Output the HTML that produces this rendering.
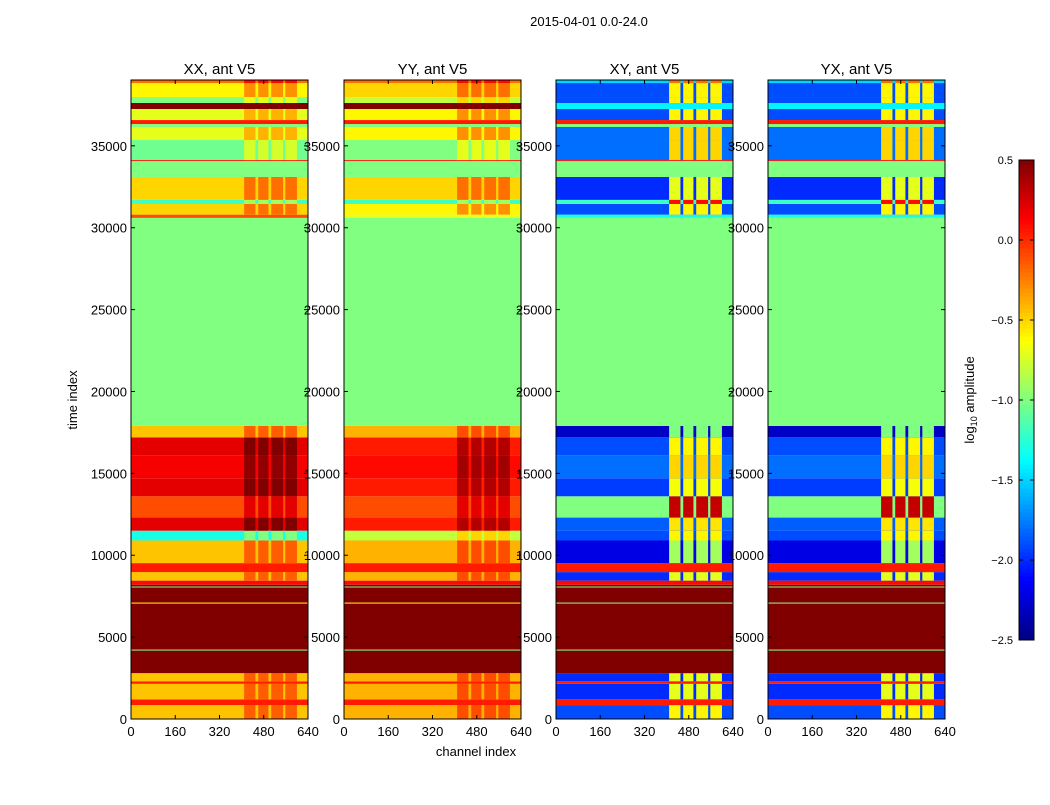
<!DOCTYPE html>
<html><head><meta charset="utf-8"><style>
body{margin:0;background:#fff;}
svg text{font-family:"Liberation Sans",sans-serif;fill:#000;}
</style></head><body>
<svg id="fig" width="1050" height="800" xmlns="http://www.w3.org/2000/svg">
<rect width="1050" height="800" fill="#fff"/>
<text x="589" y="26" font-size="13" text-anchor="middle">2015-04-01 0.0-24.0</text>
<text x="476" y="756" font-size="13" text-anchor="middle">channel index</text>
<text x="0" y="0" font-size="13" text-anchor="middle" transform="translate(77,400) rotate(-90)">time index</text>
<text x="0" y="0" font-size="13" text-anchor="middle" transform="translate(974,400) rotate(-90)">log<tspan font-size="9" dy="3">10</tspan><tspan dy="-3"> amplitude</tspan></text>
</svg>
<script>
const panelTitles=["XX, ant V5","YY, ant V5","XY, ant V5","YX, ant V5"];
const xTicks=[0,160,320,480,640];
const yTicks=[0,5000,10000,15000,20000,25000,30000,35000];
const cbTicks=[0.5,0.0,-0.5,-1.0,-1.5,-2.0,-2.5];
const cbLabels=["0.5","0.0","\u22120.5","\u22121.0","\u22121.5","\u22122.0","\u22122.5"];
const bandStart=[0,850,1200,2150,2300,2800,4180,4240,7050,7110,8030,8090,8200,8450,8970,9520,10900,11500,12300,13600,14700,16100,17200,17900,30600,30800,31450,31700,33100,34070,34130,35355,36150,36330,36575,37250,37615,37980,38835];
const bandEnd  =[850,1200,2150,2300,2800,4180,4240,7050,7110,8030,8090,8200,8450,8970,9520,10900,11500,12300,13600,14700,16100,17200,17900,30600,30800,31450,31700,33100,34070,34130,35355,36150,36330,36575,37250,37615,37980,38835,39020];
const xxVals=[-0.45,0.05,-0.45,0.05,-0.45,0.5,-1.0,0.5,-0.6,0.5,-1.0,0.5,0.1,-0.45,0.05,-0.45,-1.3,0.2,-0.1,0.2,0.15,0.2,-0.45,-1.0,-0.1,-0.5,-1.2,-0.5,-1.0,0.1,-1.05,-0.7,-1.0,0.05,-0.7,0.5,-1.0,-0.6,-0.2];
const yyVals=[-0.4,0.05,-0.4,0.05,-0.4,0.5,-1.0,0.5,-0.6,0.5,-1.0,0.5,0.1,-0.4,0.05,-0.4,-0.8,0.05,-0.1,0.05,0.1,0.05,-0.4,-1.0,-0.7,-0.6,-1.2,-0.5,-1.0,0.1,-1.0,-0.6,-1.0,0.05,-0.6,0.5,-0.8,-0.5,-0.2];
const xyVals=[-1.9,0.05,-2.0,0.05,-2.0,0.5,-1.0,0.5,-1.0,0.5,-1.0,0.5,0.1,-2.0,0.05,-2.2,-1.9,-1.85,-1.0,-1.95,-1.8,-1.9,-2.3,-1.0,-1.3,-1.9,-1.2,-2.0,-1.0,0.1,-1.8,-1.8,-1.0,0.05,-1.9,-1.4,-1.9,-1.9,-1.5];
const yxVals=xyVals;
const striped=[1,0,1,0,1,0,0,0,0,0,0,0,0,1,0,1,1,1,1,1,1,1,1,0,0,1,1,1,0,0,1,1,0,0,1,0,1,1,1];
const stripeChans=[[409,450],[460,497],[507,550],[558,600]];
const stripeDelta=[0.3,0.3,1.3,1.3];
const panelLeft=[131,344,556,768];
const PW=177,PT=80,PB=719,TMAX=39020,CMAX=640,VMIN=-2.5,VMAX=0.5;
const NS="http://www.w3.org/2000/svg";
const svg=document.getElementById('fig');
function jet(v){let x=(v-VMIN)/(VMAX-VMIN);x=Math.max(0,Math.min(1,x));
 const c=t=>Math.round(255*Math.max(0,Math.min(1,t)));
 const r=c(Math.min(4*x-1.5,-4*x+4.5)),g=c(Math.min(4*x-0.5,-4*x+3.5)),b=c(Math.min(4*x+0.5,-4*x+2.5));
 return `rgb(${r},${g},${b})`;}
const yScale=t=>PB-(t/TMAX)*(PB-PT);
function mk(tag,attrs){const e=document.createElementNS(NS,tag);for(const k in attrs)e.setAttribute(k,attrs[k]);svg.appendChild(e);return e;}
const series=[xxVals,yyVals,xyVals,yxVals];
for(let p=0;p<4;p++){
 const L=panelLeft[p];const xScale=c=>L+c/CMAX*PW;
 for(let i=0;i<bandStart.length;i++){
  const y1=yScale(bandEnd[i]),y0=yScale(bandStart[i]);
  const r=mk('rect',{x:L,y:y1,width:PW,height:Math.max(0.6,y0-y1),fill:jet(series[p][i])});
  
  
  if(striped[i]){for(const sc of stripeChans){
   const s=mk('rect',{x:xScale(sc[0]),y:y1,width:xScale(sc[1])-xScale(sc[0]),height:Math.max(0.6,y0-y1),fill:jet(series[p][i]+stripeDelta[p])});
   
   }}
 }
 const f=mk('rect',{x:L,y:PT,width:PW,height:PB-PT,fill:'none',stroke:'#000','stroke-width':1});
 
 
 const tt=mk('text',{x:L+PW/2,y:74,'font-size':15,'text-anchor':'middle'});tt.textContent=panelTitles[p];
 
 
 for(const xt of xTicks){const x=xScale(xt);
  mk('line',{x1:x,x2:x,y1:PB,y2:PB-4,stroke:'#000'});mk('line',{x1:x,x2:x,y1:PT,y2:PT+4,stroke:'#000'});
  const t=mk('text',{x:x,y:736,'font-size':13,'text-anchor':'middle'});t.textContent=xt;
  
  }
 for(const yt of yTicks){const y=yScale(yt);
  mk('line',{x1:L,x2:L+4,y1:y,y2:y,stroke:'#000'});mk('line',{x1:L+PW,x2:L+PW-4,y1:y,y2:y,stroke:'#000'});
  const t=mk('text',{x:L-4,y:y+5,'font-size':13,'text-anchor':'end'});t.textContent=yt;
  
  }
}
// colorbar
const CBX=1019,CBW=15,CBT=160,CBB=640;
const cbScale=v=>CBB-(v-VMIN)/(VMAX-VMIN)*(CBB-CBT);
for(let k=0;k<120;k++){const v0=VMIN+k*(VMAX-VMIN)/120,v1=VMIN+(k+1)*(VMAX-VMIN)/120;
 const r=mk('rect',{x:CBX,y:cbScale(v1),width:CBW,height:cbScale(v0)-cbScale(v1)+0.5,fill:jet((v0+v1)/2)});
 
 }
const cbf=mk('rect',{x:CBX,y:CBT,width:CBW,height:CBB-CBT,fill:'none',stroke:'#000'});


cbTicks.forEach((v,i)=>{const y=cbScale(v);
 mk('line',{x1:CBX,x2:CBX+4,y1:y,y2:y,stroke:'#000'});
 mk('line',{x1:CBX+CBW,x2:CBX+CBW-4,y1:y,y2:y,stroke:'#000'});
 const t=mk('text',{x:CBX-6,y:y+4,'font-size':11,'text-anchor':'end'});t.textContent=cbLabels[i];
 
 });
</script>
</body></html>
